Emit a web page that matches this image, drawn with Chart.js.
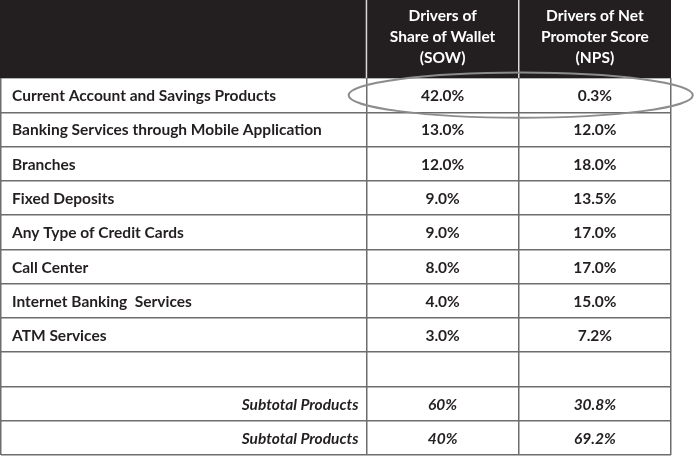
<!DOCTYPE html>
<html lang="en">
<head>
<meta charset="UTF-8">
<title>Drivers of SOW and NPS</title>
<script src="https://cdn.jsdelivr.net/npm/chart.js"></script>
<style>
  body { margin: 0; background: #fff; }
  #wrap { width: 694px; height: 456px; }
</style>
</head>
<body>
<div id="wrap"><canvas id="myChart"></canvas></div>
<script>
// table content
const rows = [
  'Current Account and Savings Products',
  'Banking Services through Mobile Application',
  'Branches',
  'Fixed Deposits',
  'Any Type of Credit Cards',
  'Call Center',
  'Internet Banking  Services',
  'ATM Services',
  '',
  'Subtotal Products',
  'Subtotal Products'
];
const rowKind = ['item', 'item', 'item', 'item', 'item', 'item', 'item', 'item', 'blank', 'subtotal', 'subtotal'];
const sow = [42.0, 13.0, 12.0, 9.0, 9.0, 8.0, 4.0, 3.0, null, 60, 40];
const nps = [0.3, 12.0, 18.0, 13.5, 17.0, 17.0, 15.0, 7.2, null, 30.8, 69.2];
const headers = [
  ['Drivers of', 'Share of Wallet', '(SOW)'],
  ['Drivers of Net', 'Promoter Score', '(NPS)']
];

// column edges in x-scale units (label column is wider)
const colEdges = [0, 2.4, 3.4, 4.4];
const FONT = 'Lato, "Open Sans", sans-serif';
const INK = '#231f20';

function fmt(v, kind, col) {
  if (v === null) return '';
  if (kind === 'subtotal' && col === 0) return v.toFixed(0) + '%';
  return v.toFixed(1) + '%';
}

const tablePlugin = {
  id: 'table',
  beforeDatasetsDraw(chart) {
    const { ctx, chartArea, scales: { x, y } } = chart;
    ctx.save();
    // dark header band
    ctx.fillStyle = INK;
    ctx.fillRect(0, 0, chartArea.right, chartArea.top);
    ctx.strokeStyle = '#d9d9d9';
    ctx.lineWidth = 1.5;
    [colEdges[1], colEdges[2]].forEach(e => {
      const px = x.getPixelForValue(e);
      ctx.beginPath();
      ctx.moveTo(px, 0);
      ctx.lineTo(px, chartArea.top);
      ctx.stroke();
    });
    // header text
    ctx.fillStyle = '#ffffff';
    ctx.font = 'bold 15.5px ' + FONT;
    ctx.textAlign = 'center';
    ctx.textBaseline = 'middle';
    headers.forEach((lines, c) => {
      const cx = (x.getPixelForValue(colEdges[c + 1]) + x.getPixelForValue(colEdges[c + 2])) / 2;
      lines.forEach((t, i) => {
        ctx.fillText(t, cx, chartArea.top / 2 - 2 + (i - 1) * 21);
      });
    });
    // body cells
    ctx.fillStyle = INK;
    rows.forEach((label, i) => {
      const cy = y.getPixelForValue(i) + 1;
      const kind = rowKind[i];
      ctx.font = (kind === 'subtotal' ? 'italic bold ' : 'bold ') + '15.5px ' + FONT;
      if (kind === 'subtotal') {
        ctx.textAlign = 'right';
        ctx.fillText(label, x.getPixelForValue(colEdges[1]) - 8, cy);
      } else {
        ctx.textAlign = 'left';
        ctx.fillText(label, x.getPixelForValue(colEdges[0]) + 11, cy);
      }
      ctx.textAlign = 'center';
      [sow[i], nps[i]].forEach((v, c) => {
        const cx = (x.getPixelForValue(colEdges[c + 1]) + x.getPixelForValue(colEdges[c + 2])) / 2;
        ctx.fillText(fmt(v, kind, c), cx, cy);
      });
    });
    ctx.restore();
  },
  afterDraw(chart) {
    // highlight ring round the first row's values
    const { ctx, scales: { x, y } } = chart;
    const band = Math.abs(y.getPixelForValue(1) - y.getPixelForValue(0));
    const cx = x.getPixelForValue(colEdges[2]) + 2;
    const cy = y.getPixelForValue(0);
    const rx = x.getPixelForValue(colEdges[2] + 1.13) - x.getPixelForValue(colEdges[2]);
    const ry = band * 0.66;
    ctx.save();
    ctx.strokeStyle = '#8c8c8c';
    ctx.lineWidth = 2;
    ctx.beginPath();
    ctx.ellipse(cx, cy, rx, ry, 0, 0, Math.PI * 2);
    ctx.stroke();
    ctx.restore();
  }
};

const ctx = document.getElementById('myChart').getContext('2d');

const chart = new Chart(ctx, {
  type: 'bar',
  data: {
    labels: rows,
    datasets: []
  },
  options: {
    responsive: true,
    maintainAspectRatio: false,
    animation: false,
    layout: {
      padding: { top: 78, left: 1, right: 23, bottom: 1 }
    },
    plugins: {
      legend: { display: false },
      tooltip: { enabled: false }
    },
    scales: {
      x: {
        type: 'linear',
        offset: false,
        min: colEdges[0],
        max: colEdges[colEdges.length - 1],
        afterBuildTicks(scale) {
          scale.ticks = colEdges.map(v => ({ value: v }));
        },
        ticks: { display: false, autoSkip: false },
        grid: { color: '#6d6d6d', lineWidth: 1.5, drawTicks: false, offset: false },
        border: { display: false }
      },
      y: {
        type: 'category',
        labels: rows.map((r, i) => i),
        offset: true,
        ticks: { display: false, autoSkip: false },
        grid: { color: '#6d6d6d', lineWidth: 1.5, drawTicks: false, offset: true },
        border: { display: false }
      }
    }
  },
  plugins: [tablePlugin]
});
</script>
</body>
</html>
